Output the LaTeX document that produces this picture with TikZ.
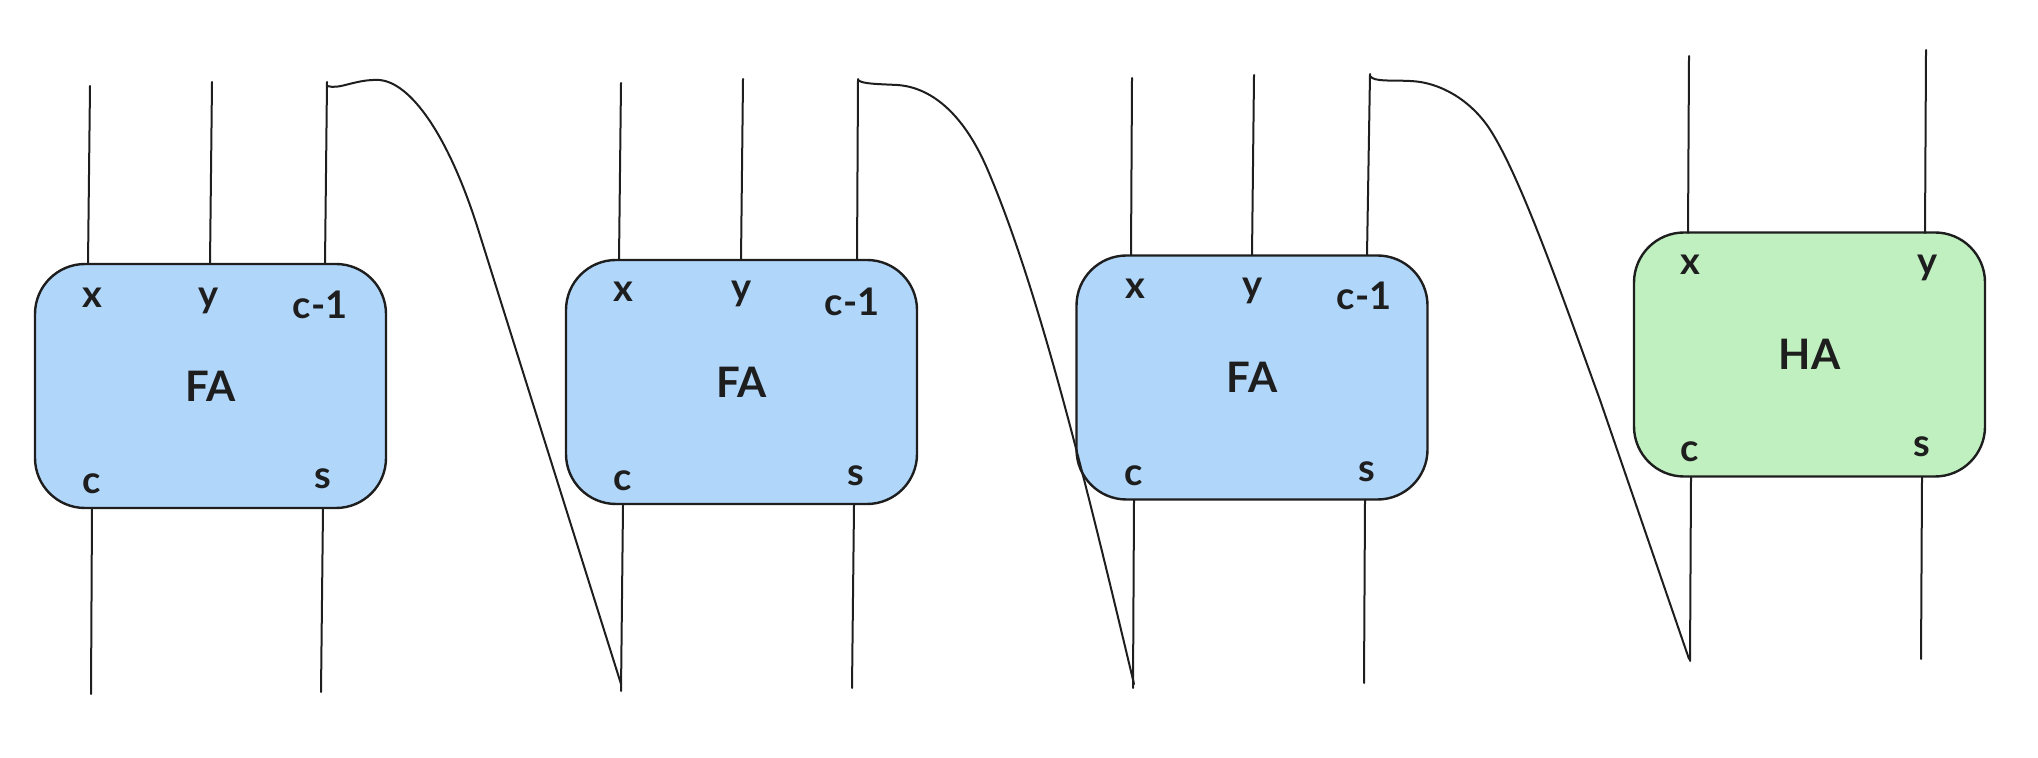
\documentclass[tikz,border=0pt]{standalone}
\usepackage{fontspec}
\setmainfont{Lato}
\definecolor{fablue}{HTML}{B0D6FA}
\definecolor{hagreen}{HTML}{C0F0C0}
\definecolor{ink}{HTML}{1E1E1E}
\begin{document}
\begin{tikzpicture}[x=0.5pt,y=-0.5pt,
  unit/.style={draw=ink, line width=1.2pt, rounded corners=25pt, minimum width=175.5pt, minimum height=122pt, inner sep=0pt, font=\fontsize{21}{25}\selectfont\bfseries, text=ink},
  fa/.style={unit, fill=fablue},
  ha/.style={unit, fill=hagreen},
  port/.style={font=\fontsize{19}{23}\selectfont\bfseries, text=ink, inner sep=0pt},
  wire/.style={draw=ink, line width=1pt, line cap=round}]
\useasboundingbox (0,0) rectangle (2038,758);

% boxes
\node[fa] (b1) at (210.5,386) {FA};
\node[fa] (b2) at (741.5,382) {FA};
\node[fa] (b3) at (1252,377.5) {FA};
\node[ha] (b4) at (1809.5,354.5) {HA};

% port labels
\node[port] (l1x) at (92,298) {x};
\node[port] (l1y) at (209,301) {y};
\node[port] (l1c1) at (320,305) {c-1};
\node[port] (l1c) at (92,484) {c};
\node[port] (l1s) at (323,479) {s};

\node[port] (l2x) at (623,292) {x};
\node[port] (l2y) at (742,294) {y};
\node[port] (l2c1) at (852,302) {c-1};
\node[port] (l2c) at (623,481) {c};
\node[port] (l2s) at (856,476) {s};

\node[port] (l3x) at (1135,289) {x};
\node[port] (l3y) at (1253,291) {y};
\node[port] (l3c1) at (1364,296) {c-1};
\node[port] (l3c) at (1134,476) {c};
\node[port] (l3s) at (1367,472) {s};

\node[port] (l4x) at (1690,265) {x};
\node[port] (l4y) at (1927,268) {y};
\node[port] (l4c) at (1690,452) {c};
\node[port] (l4s) at (1922,447) {s};

% wire end points
\coordinate (t1x) at (90,86);   \coordinate (a1x) at (88,264);
\coordinate (t1y) at (212,82);  \coordinate (a1y) at (210,264);
\coordinate (t1c) at (327,82);  \coordinate (a1c) at (325,264);
\coordinate (u1c) at (92,508);  \coordinate (e1c) at (91,694);
\coordinate (u1s) at (323,508); \coordinate (e1s) at (321,692);

\coordinate (t2x) at (621,83);  \coordinate (a2x) at (619,260);
\coordinate (t2y) at (743,79);  \coordinate (a2y) at (741,260);
\coordinate (t2c) at (858,79);  \coordinate (a2c) at (857,260);
\coordinate (u2c) at (623,505); \coordinate (e2c) at (621,691);
\coordinate (u2s) at (854,505); \coordinate (e2s) at (852,688);

\coordinate (t3x) at (1132,78); \coordinate (a3x) at (1131,255);
\coordinate (t3y) at (1254,75); \coordinate (a3y) at (1252,255);
\coordinate (t3c) at (1370,74); \coordinate (a3c) at (1367,255);
\coordinate (u3c) at (1134,500); \coordinate (e3c) at (1133,688);
\coordinate (u3s) at (1365,500); \coordinate (e3s) at (1364,683);

\coordinate (t4x) at (1689,56); \coordinate (a4x) at (1688,233);
\coordinate (t4y) at (1926,50); \coordinate (a4y) at (1925,233);
\coordinate (u4c) at (1691,477); \coordinate (e4c) at (1690,661);
\coordinate (u4s) at (1922,477); \coordinate (e4s) at (1921,659);

% curve ends
\coordinate (k1a) at (327,86);  \coordinate (k1e) at (621,684);
\coordinate (k2a) at (858,80);  \coordinate (k2e) at (1134,684);
\coordinate (k3a) at (1370,76); \coordinate (k3e) at (1689,659);

% straight wires
\foreach \i in {1,2,3}{
  \draw[wire] (t\i x) -- (a\i x);
  \draw[wire] (t\i y) -- (a\i y);
  \draw[wire] (t\i c) -- (a\i c);
  \draw[wire] (u\i c) -- (e\i c);
  \draw[wire] (u\i s) -- (e\i s);
}
\draw[wire] (t4x) -- (a4x);
\draw[wire] (t4y) -- (a4y);
\draw[wire] (u4c) -- (e4c);
\draw[wire] (u4s) -- (e4s);

% carry curves
\draw[wire] (k1a) .. controls (340,90) and (355,79) .. (379,80)
  .. controls (410,82) and (448,134) .. (478,229) -- (k1e);
\draw[wire] (k2a) .. controls (862,84) and (878,84) .. (897,85)
  .. controls (930,87) and (962,112) .. (986,166)
  .. controls (1040,290) and (1090,500) .. (k2e);
\draw[wire] (k3a) .. controls (1374,82) and (1390,80) .. (1410,81)
  .. controls (1440,82) and (1470,100) .. (1489,128)
  .. controls (1520,175) and (1560,290) .. (1600,400) -- (k3e);
\end{tikzpicture}
\end{document}
